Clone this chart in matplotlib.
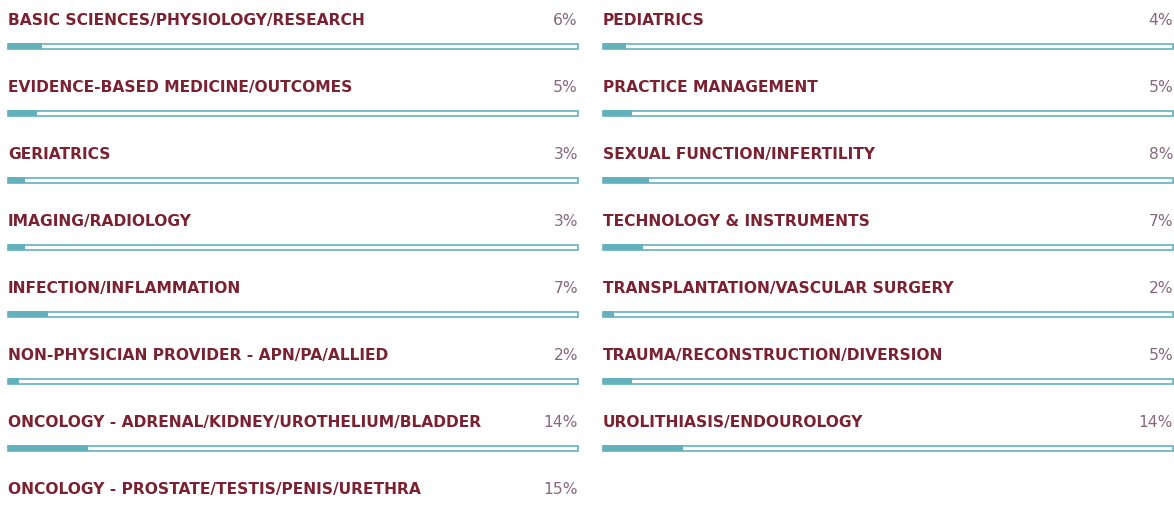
import matplotlib
matplotlib.use("Agg")
import matplotlib.pyplot as plt

# categories, split in the two columns of the picture
left_labels = ["BASIC SCIENCES/PHYSIOLOGY/RESEARCH",
               "EVIDENCE-BASED MEDICINE/OUTCOMES",
               "GERIATRICS",
               "IMAGING/RADIOLOGY",
               "INFECTION/INFLAMMATION",
               "NON-PHYSICIAN PROVIDER - APN/PA/ALLIED",
               "ONCOLOGY - ADRENAL/KIDNEY/UROTHELIUM/BLADDER",
               "ONCOLOGY - PROSTATE/TESTIS/PENIS/URETHRA"]
left_values = [6, 5, 3, 3, 7, 2, 14, 15]

right_labels = ["PEDIATRICS",
                "PRACTICE MANAGEMENT",
                "SEXUAL FUNCTION/INFERTILITY",
                "TECHNOLOGY & INSTRUMENTS",
                "TRANSPLANTATION/VASCULAR SURGERY",
                "TRAUMA/RECONSTRUCTION/DIVERSION",
                "UROLITHIASIS/ENDOUROLOGY"]
right_values = [4, 5, 8, 7, 2, 5, 14]

teal = "#62b1bd"
label_col = "#7b2232"
pct_col = "#86687a"

W, H = 1174, 509
fig = plt.figure(figsize=(W / 100, H / 100), dpi=100)
ax = fig.add_axes([0, 0, 1, 1])
ax.set_xlim(0, W)
ax.set_ylim(H, 0)
ax.axis("off")

row_h = 67.0
text_y0 = 20.5
bar_y0 = 46.3
track_w = 570
columns = [(8, left_labels, left_values), (603, right_labels, right_values)]

for x0, labels, values in columns:
    for i, (lab, v) in enumerate(zip(labels, values)):
        ty = text_y0 + i * row_h
        by = bar_y0 + i * row_h
        ax.text(x0, ty, lab, color=label_col, fontsize=11.2, fontweight="bold",
                family="DejaVu Sans", va="center", ha="left")
        ax.text(x0 + track_w, ty, f"{v}%", color=pct_col, fontsize=11.2,
                family="DejaVu Sans", va="center", ha="right")
        # empty track
        ax.barh(by, track_w, left=x0, height=4.6, color="white",
                edgecolor=teal, linewidth=1.2)
        # filled part
        ax.barh(by, v / 100 * track_w, left=x0, height=6, color=teal,
                edgecolor="none")

fig.savefig("out.png", dpi=100)
